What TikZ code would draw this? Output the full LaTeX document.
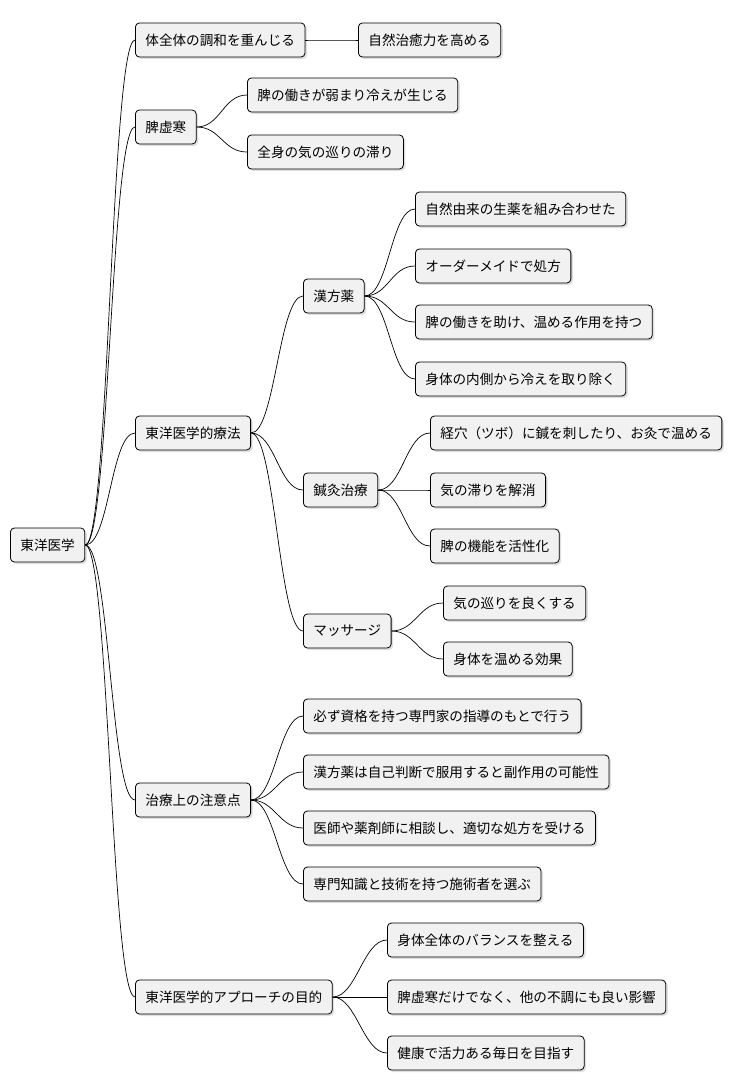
\documentclass[tikz,border=0pt]{standalone}
\usepackage{fontspec}
\newfontfamily\cjk{Noto Sans CJK JP}
\usetikzlibrary{positioning, shadows}
\definecolor{boxfill}{HTML}{F1F1F1}
\tikzset{
  topic/.style={draw, fill=boxfill, rounded corners=4pt, line width=0.8pt, minimum height=34pt,
    inner xsep=10pt, anchor=west, font=\cjk\fontsize{13.6}{15}\selectfont,
    drop shadow={shadow xshift=2pt, shadow yshift=-2pt, fill=black!25}},
  branch/.style={line width=0.7pt}
}
\begin{document}
\begin{tikzpicture}[x=1pt, y=-1pt]
\useasboundingbox (0,0) rectangle (740,1090);
\node (root) [topic] at (10,545) {東洋医学};
\node (harmony) [topic] at (135,40) {体全体の調和を重んじる};
\node (heal) [topic] at (358,40) {自然治癒力を高める};
\node (hikyo) [topic] at (135,127) {脾虚寒};
\node (hikyoA) [topic] at (247,95) {脾の働きが弱まり冷えが生じる};
\node (hikyoB) [topic] at (247,152) {全身の気の巡りの滞り};
\node (therapy) [topic] at (135,433) {東洋医学的療法};
\node (kampo) [topic] at (303,296) {漢方薬};
\node (kampoA) [topic] at (415,209) {自然由来の生薬を組み合わせた};
\node (kampoB) [topic] at (415,266) {オーダーメイドで処方};
\node (kampoC) [topic] at (415,322) {脾の働きを助け、温める作用を持つ};
\node (kampoD) [topic] at (415,379) {身体の内側から冷えを取り除く};
\node (shinkyu) [topic] at (303,490) {鍼灸治療};
\node (shinkyuA) [topic] at (430,433) {経穴（ツボ）に鍼を刺したり、お灸で温める};
\node (shinkyuB) [topic] at (430,490) {気の滞りを解消};
\node (shinkyuC) [topic] at (430,546) {脾の機能を活性化};
\node (massage) [topic] at (303,631) {マッサージ};
\node (massageA) [topic] at (443,603) {気の巡りを良くする};
\node (massageB) [topic] at (443,659) {身体を温める効果};
\node (caution) [topic] at (135,800) {治療上の注意点};
\node (cautionA) [topic] at (303,716) {必ず資格を持つ専門家の指導のもとで行う};
\node (cautionB) [topic] at (303,772) {漢方薬は自己判断で服用すると副作用の可能性};
\node (cautionC) [topic] at (303,828) {医師や薬剤師に相談し、適切な処方を受ける};
\node (cautionD) [topic] at (303,884) {専門知識と技術を持つ施術者を選ぶ};
\node (goal) [topic] at (135,997) {東洋医学的アプローチの目的};
\node (goalA) [topic] at (387,940) {身体全体のバランスを整える};
\node (goalB) [topic] at (387,997) {脾虚寒だけでなく、他の不調にも良い影響};
\node (goalC) [topic] at (387,1053) {健康で活力ある毎日を目指す};
% connectors
\foreach \p/\c in {root/harmony, root/hikyo, root/therapy, root/caution, root/goal,
  harmony/heal, hikyo/hikyoA, hikyo/hikyoB,
  therapy/kampo, therapy/shinkyu, therapy/massage,
  kampo/kampoA, kampo/kampoB, kampo/kampoC, kampo/kampoD,
  shinkyu/shinkyuA, shinkyu/shinkyuB, shinkyu/shinkyuC,
  massage/massageA, massage/massageB,
  caution/cautionA, caution/cautionB, caution/cautionC, caution/cautionD,
  goal/goalA, goal/goalB, goal/goalC}
  \draw [branch] (\p.east) .. controls +(24,0) and +(-24,0) .. (\c.west);
\end{tikzpicture}
\end{document}
